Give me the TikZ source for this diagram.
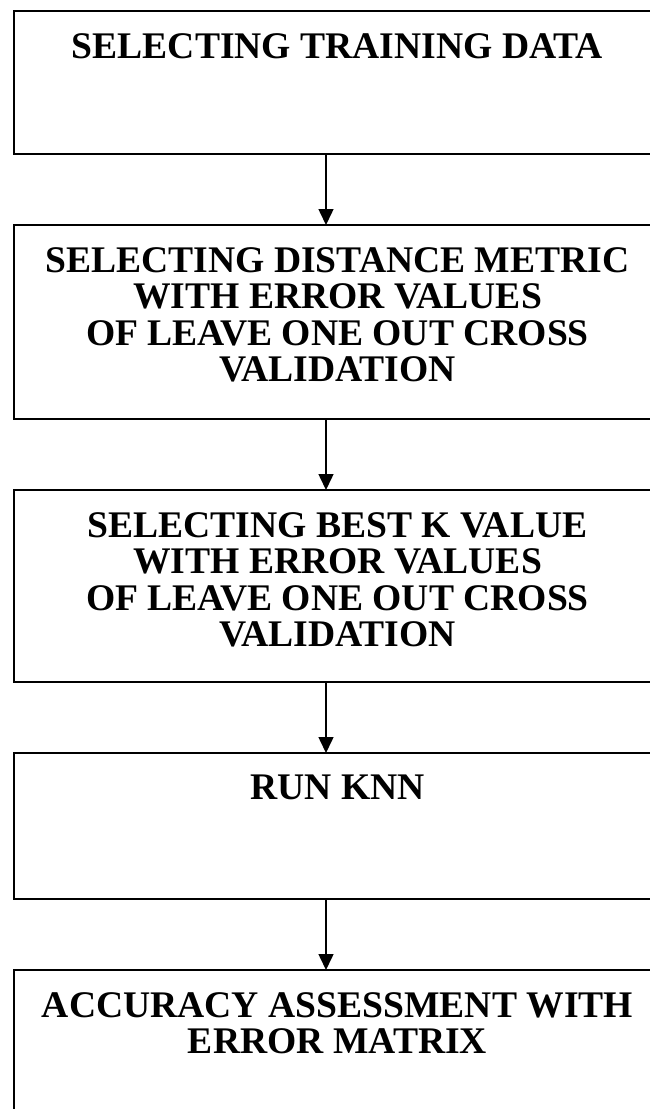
\documentclass[tikz,border=0pt]{standalone}
\usepackage{fontspec}
\setmainfont{Liberation Serif}
\usetikzlibrary{arrows.meta,calc}
\tikzset{
  box/.style={draw=black, line width=2.4pt, rectangle, minimum width=647pt, inner sep=0pt, outer sep=0pt},
  txt/.style={anchor=north, align=center, inner sep=0pt, font=\bfseries\fontsize{37.6pt}{36.5pt}\selectfont},
  arr/.style={draw=black, line width=1.5pt, -{Triangle[length=16pt,width=15pt]}}
}
\begin{document}
\begin{tikzpicture}[x=1pt,y=1pt]
\useasboundingbox (0,0) rectangle (649,-1109);
\node[box, minimum height=143pt] (b1) at (337.5,-82.5) {};
\node[box, minimum height=194pt] (b2) at (337.5,-322) {};
\node[box, minimum height=192pt] (b3) at (337.5,-586) {};
\node[box, minimum height=146pt] (b4) at (337.5,-826) {};
\node[box, minimum height=210pt] (b5) at (337.5,-1075) {};
\coordinate (ax) at (326,0);
\node[txt] (t1) at ($(b1.north)+(0,-22)$) {SELECTING TRAINING DATA};
\node[txt] (t2) at ($(b2.north)+(0,-22)$) {SELECTING DISTANCE METRIC\\WITH ERROR VALUES\\OF LEAVE ONE OUT CROSS\\VALIDATION};
\node[txt] (t3) at ($(b3.north)+(0,-22)$) {SELECTING BEST K VALUE\\WITH ERROR VALUES\\OF LEAVE ONE OUT CROSS\\VALIDATION};
\node[txt] (t4) at ($(b4.north)+(0,-22)$) {RUN KNN};
\node[txt] (t5) at ($(b5.north)+(0,-22)$) {ACCURACY ASSESSMENT WITH\\ERROR MATRIX};
\draw[arr] (b1.south -| ax) -- (b2.north -| ax);
\draw[arr] (b2.south -| ax) -- (b3.north -| ax);
\draw[arr] (b3.south -| ax) -- (b4.north -| ax);
\draw[arr] (b4.south -| ax) -- (b5.north -| ax);
\end{tikzpicture}
\end{document}
